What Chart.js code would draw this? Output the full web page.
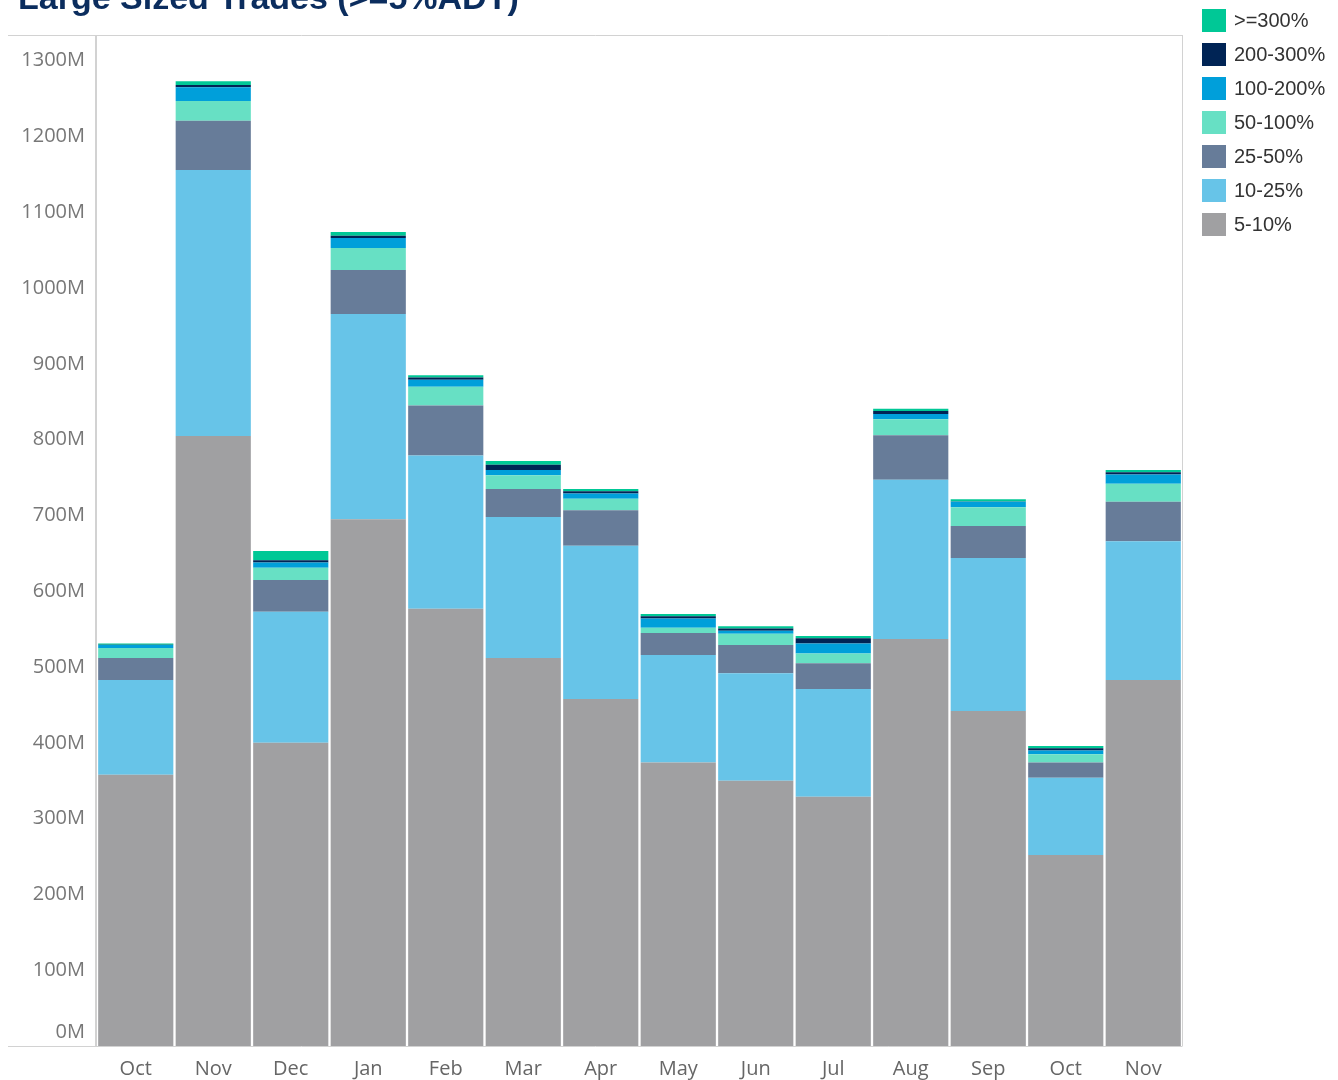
<!DOCTYPE html>
<html>
<head>
<meta charset="utf-8">
<script src="https://cdn.jsdelivr.net/npm/chart.js@4"></script>
<style>
  html, body { margin: 0; padding: 0; background: #fff; overflow: hidden; }
  #wrap { position: relative; width: 1338px; height: 1080px; }
  #title {
    position: absolute; left: 18px; top: -20px; margin: 0;
    font: bold 34px "Liberation Sans", Arial, sans-serif; line-height: 34px;
    color: #0b2d5e; white-space: nowrap;
  }
  #legend { position: absolute; left: 1202px; top: 3px; font: 20px "Liberation Sans", Arial, sans-serif; color: #333; }
  .item { display: flex; align-items: center; height: 34px; }
  .swatch { width: 24px; height: 23px; margin-right: 8px; }
  canvas { position: absolute; left: 0; top: 0; }
</style>
</head>
<body>
<div id="wrap">
  <canvas id="chart" width="1338" height="1080"></canvas>
  <div id="title">Large Sized Trades (&gt;=5%ADT)</div>
  <div id="legend"></div>
</div>
<script>
const months = ['Oct', 'Nov', 'Dec', 'Jan', 'Feb', 'Mar', 'Apr', 'May', 'Jun', 'Jul', 'Aug', 'Sep', 'Oct', 'Nov'];

// values in millions, bottom segment first
const pct5to10 = [358, 805, 400, 695, 577, 512, 458, 374, 350, 329, 537, 442, 252, 483];
const pct10to25 = [125, 351, 173, 271, 202, 186, 202, 142, 142, 142, 210, 202, 102, 183];
const pct25to50 = [29, 65, 42, 58, 66, 37, 47, 29, 37, 34, 59, 42, 20, 52];
const pct50to100 = [13, 26, 16, 29, 25, 18, 15, 7, 15, 13, 21, 25, 11, 24];
const pct100to200 = [4, 18, 7, 13, 9, 7, 7, 12, 4, 13, 7, 7, 5, 12];
const pct200to300 = [0.5, 3, 3, 3, 3, 7, 3, 3, 3, 7, 4, 0.5, 3, 3];
const pct300plus = [1.5, 5, 12, 5, 3, 5, 3, 3, 3, 3, 3, 3, 3, 3];

const yTicks = [0, 100, 200, 300, 400, 500, 600, 700, 800, 900, 1000, 1100, 1200, 1300];

const series = [
  { label: '5-10%', data: pct5to10, color: '#a0a0a2' },
  { label: '10-25%', data: pct10to25, color: '#67c4e8' },
  { label: '25-50%', data: pct25to50, color: '#677c99' },
  { label: '50-100%', data: pct50to100, color: '#67e0c4' },
  { label: '100-200%', data: pct100to200, color: '#009fda' },
  { label: '200-300%', data: pct200to300, color: '#002455' },
  { label: '>=300%', data: pct300plus, color: '#00c896' }
];

const tickFont = { family: '"Open Sans", sans-serif', size: 20 };

// light frame around the plot, extended left under the axis labels like the original
const framePlugin = {
  id: 'frame',
  beforeDatasetsDraw(chart) {
    const { ctx, chartArea: a } = chart;
    ctx.save();
    ctx.strokeStyle = '#d2d2d2';
    ctx.lineWidth = 1;
    ctx.beginPath();
    ctx.moveTo(8, a.top + 0.5); ctx.lineTo(a.right + 0.5, a.top + 0.5);
    ctx.moveTo(8, a.bottom + 0.5); ctx.lineTo(a.right + 0.5, a.bottom + 0.5);
    ctx.moveTo(a.right + 0.5, a.top); ctx.lineTo(a.right + 0.5, a.bottom);
    ctx.stroke();
    ctx.lineWidth = 2;
    ctx.beginPath();
    ctx.moveTo(a.left - 1, a.top); ctx.lineTo(a.left - 1, a.bottom);
    ctx.stroke();
    ctx.restore();
  },
  afterDraw(chart) {
    // the zero label sits above the baseline
    const { ctx, chartArea: a } = chart;
    const y0 = chart.scales.y.getPixelForValue(0);
    ctx.save();
    ctx.font = '20px "Open Sans", sans-serif';
    ctx.fillStyle = '#777';
    ctx.textAlign = 'right';
    ctx.textBaseline = 'middle';
    ctx.fillText('0M', a.left - 12, y0 - 14);
    ctx.restore();
  }
};

new Chart(document.getElementById('chart'), {
  type: 'bar',
  data: {
    labels: months,
    datasets: series.map(s => ({
      label: s.label,
      data: s.data,
      backgroundColor: s.color,
      borderWidth: 0,
      categoryPercentage: 1,
      barPercentage: 0.97
    }))
  },
  plugins: [framePlugin],
  options: {
    responsive: false,
    animation: false,
    layout: { padding: { top: 35, right: 156, left: 0, bottom: 0 } },
    plugins: { legend: { display: false }, tooltip: { enabled: false } },
    scales: {
      x: {
        stacked: true,
        grid: { display: false, drawTicks: false },
        border: { display: false },
        ticks: { color: '#666', font: tickFont, padding: 11 },
        afterFit: s => { s.height = 34; }
      },
      y: {
        stacked: true,
        min: 0,
        max: 1334,
        afterBuildTicks: s => { s.ticks = yTicks.map(v => ({ value: v })); },
        grid: { display: false, drawTicks: false },
        border: { display: false },
        ticks: {
          color: '#777', font: tickFont, padding: 12,
          callback: v => v === 0 ? '' : v + 'M'
        },
        afterFit: s => { s.width = 97; }
      }
    }
  }
});

const legend = document.getElementById('legend');
series.slice().reverse().forEach(s => {
  const row = document.createElement('div');
  row.className = 'item';
  row.innerHTML = '<span class="swatch" style="background:' + s.color + '"></span>' + s.label.replace('>', '&gt;');
  legend.appendChild(row);
});
</script>
</body>
</html>
